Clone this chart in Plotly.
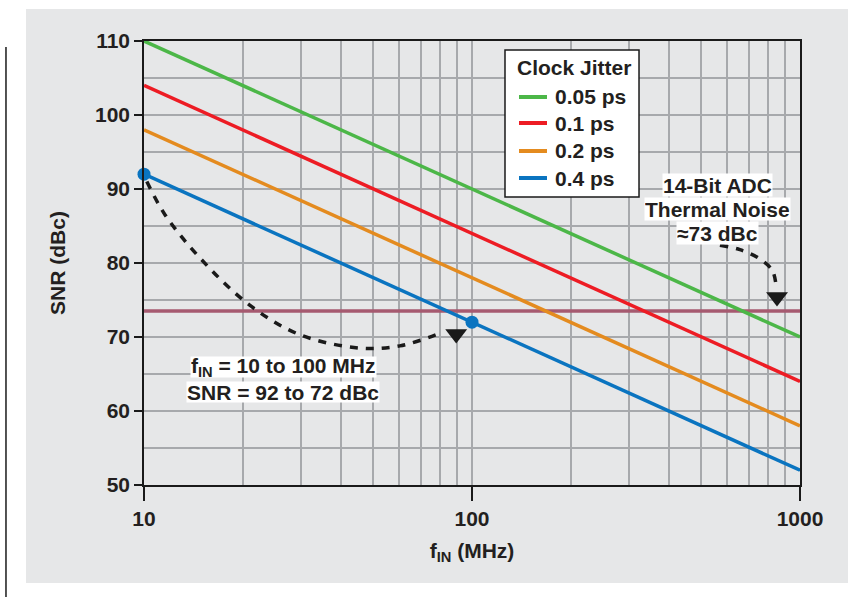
import plotly.graph_objects as go

# ---- data ----
freq_mhz = [10, 100, 1000]
jitter_labels = ["0.05 ps", "0.1 ps", "0.2 ps", "0.4 ps"]
snr_005 = [110, 90, 70]
snr_01 = [104, 84, 64]
snr_02 = [98, 78, 58]
snr_04 = [92, 72, 52]
series = [snr_005, snr_01, snr_02, snr_04]
colors = ["#4cb748", "#ed1c24", "#e48b1f", "#0a74c0"]
legend_title = "Clock Jitter"

thermal_noise = 73.5
highlight_f = [10, 100]
highlight_snr = [92, 72]

# curved dashed annotation paths (data coords)
arrow1_f = [10.2, 11.6, 14.8, 21.0, 29.9, 45.6, 60.3, 79.8]
arrow1_snr = [91.0, 86.5, 80.7, 74.3, 70.3, 68.5, 68.8, 70.5]
arrow1_head = (89.5, 70.4)
arrow2_f = [570, 656, 745, 822, 845]
arrow2_snr = [82.4, 81.8, 80.7, 79.05, 77.0]
arrow2_head = (851, 75.4)

noise_text = ["14-Bit ADC", "Thermal Noise", "≈73 dBc"]
noise_text_snr = [90.6, 87.3, 84.0]
range_text = ["f<sub>IN</sub> = 10 to 100 MHz", "SNR = 92 to 72 dBc"]
range_text_snr = [65.9, 62.6]

y_ticks = [50, 60, 70, 80, 90, 100, 110]
x_ticks = [10, 100, 1000]
x_minor = [20, 30, 40, 50, 60, 70, 80, 90, 200, 300, 400, 500, 600, 700, 800, 900]

TXT = "#231f20"
FONT = "Liberation Sans"
FS = 21

fig = go.Figure()

# thermal noise line
fig.add_trace(go.Scatter(x=[freq_mhz[0], freq_mhz[-1]], y=[thermal_noise, thermal_noise],
                         mode="lines", line=dict(color="#a65a70", width=3.5),
                         showlegend=False, hoverinfo="skip"))

for lab, ys, c in zip(jitter_labels, series, colors):
    fig.add_trace(go.Scatter(x=freq_mhz, y=ys, mode="lines", name=lab, showlegend=False,
                             line=dict(color=c, width=3.5)))

# dashed curves
for fx, fy in ((arrow1_f, arrow1_snr), (arrow2_f, arrow2_snr)):
    fig.add_trace(go.Scatter(x=fx, y=fy, mode="lines",
                             line=dict(color="#1a1a1a", width=3.5, dash="8px,8px", shape="spline"),
                             showlegend=False, hoverinfo="skip"))
fig.add_trace(go.Scatter(x=[arrow1_head[0], arrow2_head[0]], y=[arrow1_head[1], arrow2_head[1]],
                         mode="markers", marker=dict(symbol="triangle-down", size=19, color="#1a1a1a"),
                         showlegend=False, hoverinfo="skip", cliponaxis=False))

# highlight points
fig.add_trace(go.Scatter(x=highlight_f, y=highlight_snr, mode="markers",
                         marker=dict(color=colors[3], size=13),
                         showlegend=False, hoverinfo="skip", cliponaxis=False))

annotations = []
for t, yv in zip(noise_text, noise_text_snr):
    annotations.append(dict(x=2.747, y=yv, xref="x", yref="y", text=t, showarrow=False,
                            bgcolor="white", borderpad=0, height=22, font=dict(size=FS, weight="bold")))
for t, yv in zip(range_text, range_text_snr):
    annotations.append(dict(x=1.424, y=yv, xref="x", yref="y", text=t, showarrow=False,
                            bgcolor="white", borderpad=0, height=20, font=dict(size=FS, weight="bold")))

# legend (drawn in paper coordinates)
shapes = [
    dict(type="rect", xref="paper", yref="paper", x0=-0.1799, x1=1.0732, y0=-0.2207, y1=1.0721,
         fillcolor="#e6e7e8", line=dict(width=0), layer="below"),
    dict(type="line", xref="paper", yref="paper", x0=-0.2104, x1=-0.2104, y0=-0.26, y1=0.9865,
         line=dict(color="#1a1a1a", width=1.5)),
    dict(type="rect", xref="paper", yref="paper", x0=0.5503, x1=0.7546, y0=0.6486, y1=0.9797,
         fillcolor="white", line=dict(color="#1a1a1a", width=1.5), layer="above"),
]
annotations.append(dict(x=0.5655, y=0.9392, xref="paper", yref="paper", text=legend_title,
                        showarrow=False, xanchor="left", yanchor="middle",
                        font=dict(size=FS, weight="bold")))
legend_rows = [0.8739, 0.8153, 0.7523, 0.6914]
for lab, c, yr in zip(jitter_labels, colors, legend_rows):
    shapes.append(dict(type="line", xref="paper", yref="paper", x0=0.5716, x1=0.6143, y0=yr, y1=yr,
                       line=dict(color=c, width=4), layer="above"))
    annotations.append(dict(x=0.6235, y=yr, xref="paper", yref="paper", text=lab, showarrow=False,
                            xanchor="left", yanchor="middle", font=dict(size=FS, weight="bold")))

fig.update_layout(
    width=867, height=597,
    margin=dict(l=144, r=67, t=41, b=112),
    paper_bgcolor="white", plot_bgcolor="white",
    font=dict(family=FONT, size=FS, color=TXT, weight="bold"),
    showlegend=False,
    shapes=shapes,
    annotations=annotations,
)

fig.update_xaxes(type="log", range=[1, 3], tickvals=x_ticks, ticktext=[str(v) for v in x_ticks],
                 ticks="outside", ticklen=14, tickwidth=1.5, tickcolor="#1a1a1a",
                 showline=True, linecolor="#1a1a1a", linewidth=1.5, mirror=True,
                 showgrid=True, gridcolor="#a7a9ac", gridwidth=1.5,
                 minor=dict(tickvals=x_minor, showgrid=True, gridcolor="#a7a9ac", gridwidth=1.5, ticks=""),
                 title=dict(text="f<sub>IN</sub> (MHz)", font=dict(size=FS, weight="bold"), standoff=14),
                 zeroline=False)
fig.update_yaxes(range=[50, 110], tickvals=y_ticks,
                 ticks="outside", ticklen=8, tickwidth=1.5, tickcolor="#1a1a1a",
                 showline=True, linecolor="#1a1a1a", linewidth=1.5, mirror=True,
                 showgrid=True, gridcolor="#a7a9ac", gridwidth=1.5,
                 minor=dict(dtick=5, showgrid=True, gridcolor="#a7a9ac", gridwidth=1.5, ticks=""),
                 title=dict(text="SNR (dBc)", font=dict(size=FS, weight="bold"), standoff=24),
                 zeroline=False)

fig.write_html("out.html", config={"displayModeBar": False},
               post_script="document.body.style.margin='0';")
